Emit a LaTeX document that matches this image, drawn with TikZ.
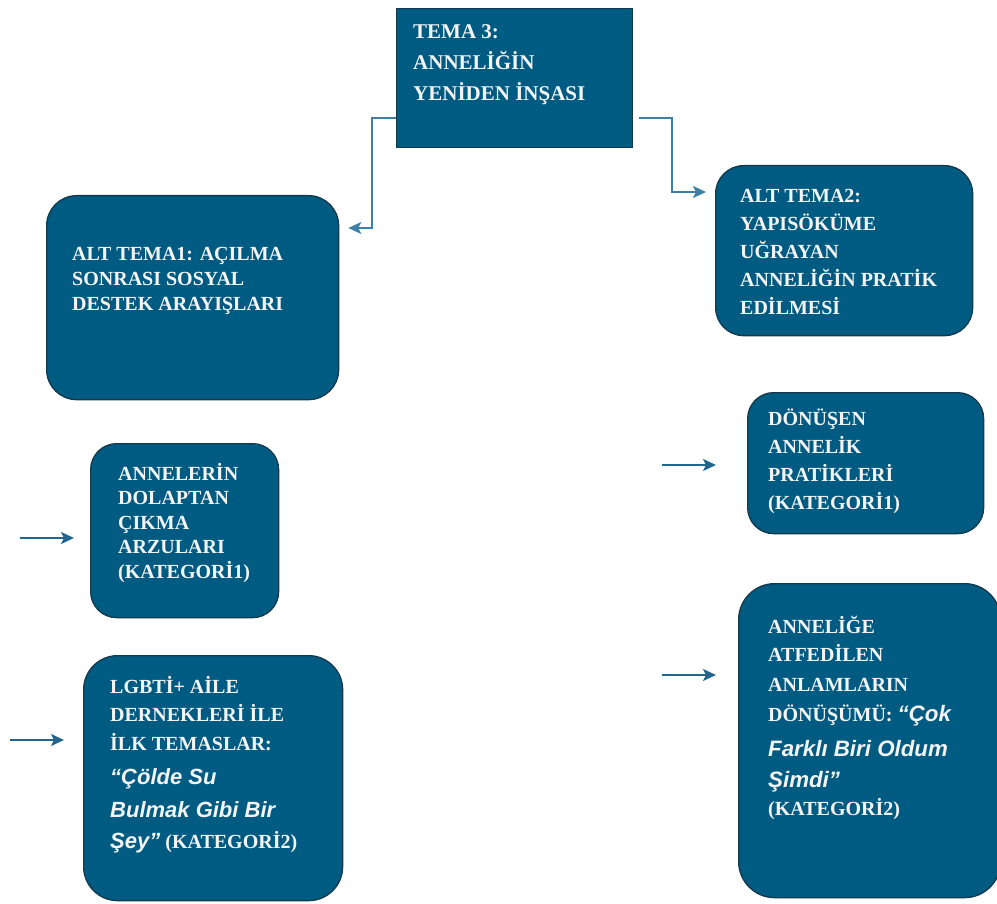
\documentclass[tikz,border=0pt]{standalone}
\usepackage{fontspec}
\setmainfont{Liberation Serif}
\newfontfamily\qsans{Liberation Sans}
\usetikzlibrary{arrows.meta}
\definecolor{boxblue}{HTML}{005B82}
\definecolor{boxedge}{HTML}{14394D}
\definecolor{arrowblue}{HTML}{22668E}
\definecolor{elbowblue}{HTML}{3D7FA6}
\definecolor{txtwhite}{HTML}{F4F4F4}
\tikzset{
  panel/.style={draw=boxedge, line width=1.3pt, fill=boxblue, anchor=north west, inner sep=0pt},
  roundpanel/.style={panel, rounded corners=#1},
  boxtext/.style={anchor=north west, inner sep=0pt, align=left, text=txtwhite},
  conn/.style={draw=arrowblue, line width=2pt, -{Stealth[length=13pt,width=12pt,inset=3pt]}},
  elbow/.style={conn, draw=elbowblue, line width=1.8pt},
}
\newcommand{\fl}{\rule{0pt}{18pt}}
\newcommand{\qit}[1]{{\qsans\bfseries\itshape\fontsize{22.3}{28}\selectfont #1}}
\newcommand{\qbit}[1]{{\qsans\bfseries\itshape\fontsize{22}{28}\selectfont #1}}
\begin{document}
\begin{tikzpicture}[x=1pt,y=-1pt]
\useasboundingbox (0,0) rectangle (997,904);
% boxes
\node[panel, minimum width=236pt, minimum height=139pt] (t) at (396,8) {};
\node[roundpanel=30pt, minimum width=292pt, minimum height=204pt] (a1) at (46,195) {};
\node[roundpanel=28pt, minimum width=257pt, minimum height=170pt] (a2) at (715,165) {};
\node[roundpanel=26pt, minimum width=188pt, minimum height=174pt] (k1) at (90,443) {};
\node[roundpanel=34pt, minimum width=259pt, minimum height=245pt] (k2) at (83,655) {};
\node[roundpanel=26pt, minimum width=236pt, minimum height=141pt] (r1) at (747,392) {};
\node[roundpanel=36pt, minimum width=262pt, minimum height=314pt] (r2) at (738,583) {};
% texts
\node[boxtext, font=\fontsize{21}{31}\selectfont\bfseries] (tt) at (413,20)
  {\fl TEMA 3:\\ ANNELİĞİN\\ YENİDEN İNŞASI};
\node[boxtext, font=\fontsize{20}{25}\selectfont\bfseries] (a1t) at (72,242)
  {\fl ALT TEMA1: AÇILMA\\ SONRASI SOSYAL\\ DESTEK ARAYIŞLARI};
\node[boxtext, font=\fontsize{20}{28}\selectfont\bfseries] (a2t) at (740,184)
  {\fl ALT TEMA2:\\ YAPISÖKÜME\\ UĞRAYAN\\ ANNELİĞİN PRATİK\\ EDİLMESİ};
\node[boxtext, font=\fontsize{20}{24.5}\selectfont\bfseries] (k1t) at (118,462)
  {\fl ANNELERİN\\ DOLAPTAN\\ ÇIKMA\\ ARZULARI\\ (KATEGORİ1)};
\node[boxtext, font=\fontsize{20}{28.5}\selectfont\bfseries] (k2t) at (110,675)
  {\fl LGBTİ+ AİLE\\ DERNEKLERİ İLE\\ İLK TEMASLAR:\\[6pt]
   \qbit{“Çölde Su}\\[4pt]
   \qbit{Bulmak Gibi Bir}\\[3pt]
   \qbit{Şey”} (KATEGORİ2)};
\node[boxtext, font=\fontsize{20}{28}\selectfont\bfseries] (r1t) at (768,407)
  {\fl DÖNÜŞEN\\ ANNELİK\\ PRATİKLERİ\\ (KATEGORİ1)};
\node[boxtext, font=\fontsize{20}{28}\selectfont\bfseries] (r2t) at (768,615)
  {\fl ANNELİĞE\\ ATFEDİLEN\\[2pt] ANLAMLARIN\\[2pt] DÖNÜŞÜMÜ: \qit{“Çok}\\[7pt]
   \qit{Farklı Biri Oldum}\\[3pt]
   \qit{Şimdi”}\\ (KATEGORİ2)};
% connectors from the theme box
\draw[elbow, shorten >=9pt] (t.west |- 0,118) -| (372,228) -- (a1.east |- 0,228);
\draw[elbow, shorten <=6pt, shorten >=9pt] (t.east |- 0,118) -| (672,192) -- (a2.west |- 0,192);
% free arrows
\coordinate (f1) at (20,538);  \coordinate (g1) at (74,538);
\coordinate (f2) at (10,740);  \coordinate (g2) at (64,740);
\coordinate (f3) at (662,465); \coordinate (g3) at (716,465);
\coordinate (f4) at (662,675); \coordinate (g4) at (716,675);
\draw[conn] (f1) -- (g1);
\draw[conn] (f2) -- (g2);
\draw[conn] (f3) -- (g3);
\draw[conn] (f4) -- (g4);
\end{tikzpicture}
\end{document}
